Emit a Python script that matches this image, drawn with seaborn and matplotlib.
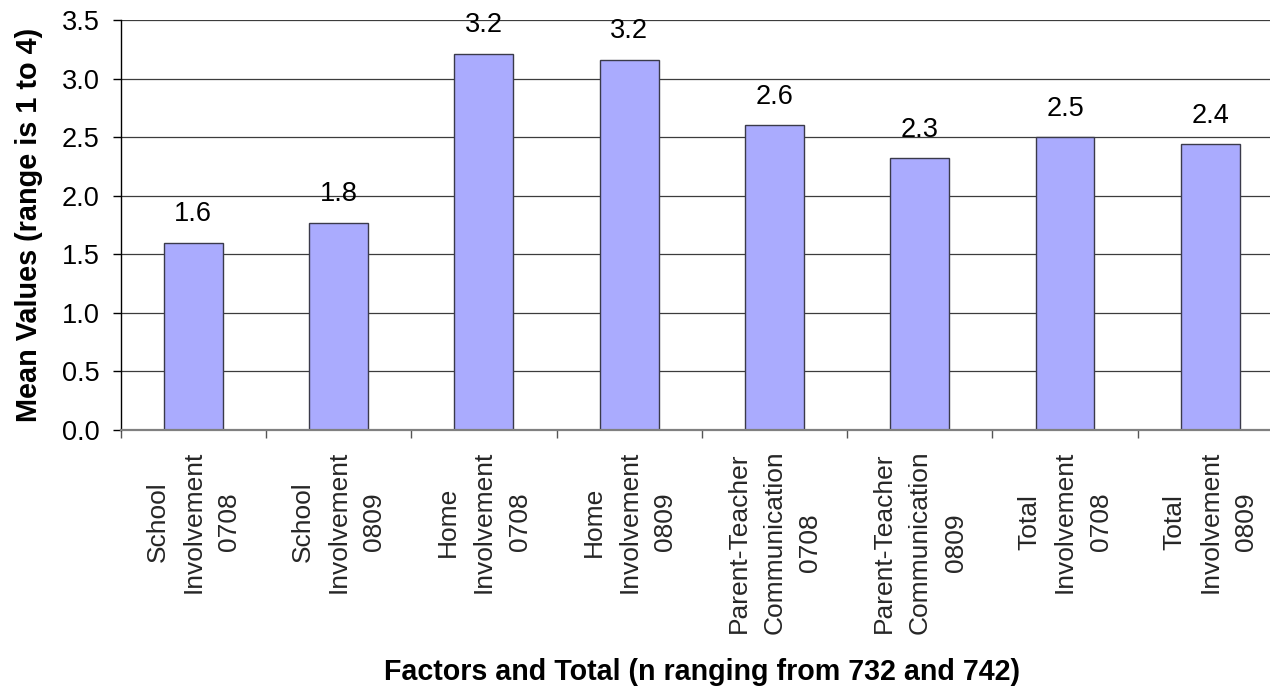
import numpy as np
import pandas as pd
import matplotlib
matplotlib.use("Agg")
import matplotlib.pyplot as plt
import seaborn as sns

# Mean scale values per factor and school year
categories = [
    "School\nInvolvement\n0708",
    "School\nInvolvement\n0809",
    "Home\nInvolvement\n0708",
    "Home\nInvolvement\n0809",
    "Parent-Teacher\nCommunication\n0708",
    "Parent-Teacher\nCommunication\n0809",
    "Total\nInvolvement\n0708",
    "Total\nInvolvement\n0809",
]
mean_values = [1.60, 1.77, 3.21, 3.16, 2.60, 2.32, 2.50, 2.44]
y_ticks = [0.0, 0.5, 1.0, 1.5, 2.0, 2.5, 3.0, 3.5]

x_title = "Factors and Total (n ranging from 732 and 742)"
y_title = "Mean Values (range is 1 to 4)"

sns.set_theme(style="white")
plt.rcParams["font.family"] = ["Liberation Sans", "DejaVu Sans"]

W, H = 1270, 688
fig = plt.figure(figsize=(W / 100, H / 100), dpi=100)
# plot area in pixels: left 120.7, right 1283 (runs past the right edge), top 20, bottom 430
left_px, right_px, top_px, bottom_px = 120.7, 1283.0, 20.0, 430.0
ax = fig.add_axes([left_px / W, 1 - bottom_px / H,
                   (right_px - left_px) / W, (bottom_px - top_px) / H])

df = pd.DataFrame({"factor": categories, "mean": mean_values})
sns.barplot(data=df, x="factor", y="mean", color="#AAABFE", saturation=1,
            width=0.405, edgecolor="#3a3a4a", linewidth=1.0, ax=ax, zorder=3)

ax.set_xlim(-0.5, len(categories) - 0.5)
ax.set_ylim(0, 3.5)
ax.set_yticks(y_ticks)
ax.set_yticklabels([f"{t:.1f}" for t in y_ticks])

# horizontal gridlines
ax.yaxis.grid(True, color="#3c3c3c", linewidth=0.9, zorder=0)
ax.xaxis.grid(False)
ax.set_axisbelow(True)

# category boundaries carry the tick marks, centres carry the labels
ax.set_xticks(np.arange(-0.5, len(categories), 1.0))
ax.set_xticklabels([])
ax.set_xticks(np.arange(len(categories)), minor=True)
ax.set_xticklabels(categories, minor=True, rotation=90, ha="center", va="top",
                   multialignment="center", linespacing=1.62, fontsize=19)
ax.tick_params(axis="x", which="major", direction="out", length=6, width=1,
               color="#555555", bottom=True)
ax.tick_params(axis="x", which="minor", length=0, pad=15.0, bottom=True)
ax.tick_params(axis="y", direction="out", length=6, width=1, color="black",
               left=True, pad=9, labelsize=19.5, labelcolor="black")

for side in ("top", "right"):
    ax.spines[side].set_visible(False)
ax.spines["left"].set_color("black")
ax.spines["left"].set_linewidth(1.0)
ax.spines["bottom"].set_color("#808080")
ax.spines["bottom"].set_linewidth(1.6)
ax.spines["bottom"].set_zorder(4)

# value labels above bars
for i, v in enumerate(mean_values):
    ax.annotate(f"{v:.1f}", xy=(i, v), xytext=(0, 15.5), textcoords="offset points",
                ha="center", va="baseline", fontsize=19.5, color="black")

ax.set_xlabel(x_title, fontsize=20.6, fontweight="bold", color="black")
ax.xaxis.set_label_coords(0.5, -(672 - bottom_px) / (bottom_px - top_px))
ax.xaxis.label.set_verticalalignment("center")
ax.set_ylabel(y_title, fontsize=20.8, fontweight="bold", color="black")
ax.yaxis.set_label_coords((29 - left_px) / (right_px - left_px), 0.5)
ax.yaxis.label.set_verticalalignment("center")

fig.savefig("out.png", dpi=100, facecolor="white")
